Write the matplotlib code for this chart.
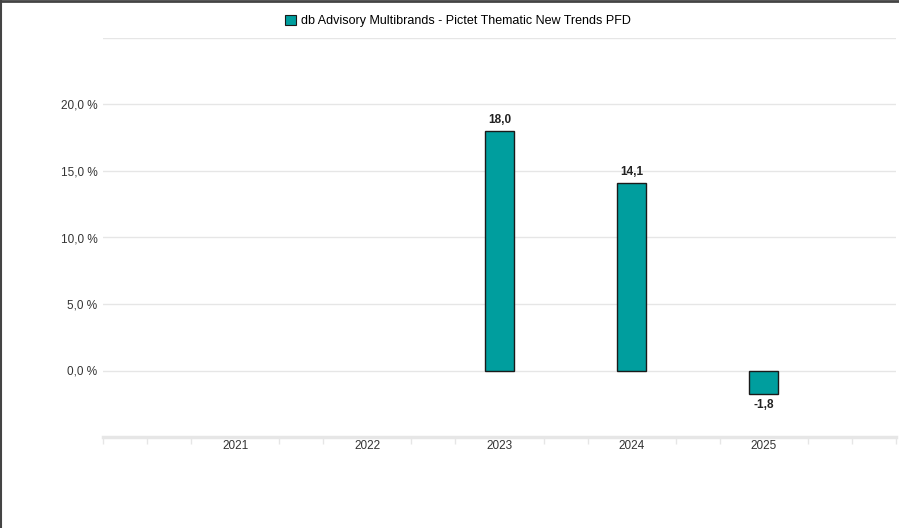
import matplotlib
matplotlib.use('Agg')
import matplotlib.pyplot as plt
from matplotlib.lines import Line2D
from matplotlib.patches import Patch

# -------------------------
# DATA
# -------------------------
years = [2021, 2022, 2023, 2024, 2025]
values = [None, None, 18.0, 14.1, -1.8]
series_name = "db Advisory Multibrands - Pictet Thematic New Trends PFD"
y_ticks = [0, 5, 10, 15, 20]

bar_color = "#009e9e"
grid_color = "#e6e6e6"

plt.rcParams['font.family'] = ['Liberation Sans', 'DejaVu Sans']

fig = plt.figure(figsize=(8.99, 5.28), dpi=100)
ax = fig.add_axes([103 / 899, 1 - 437 / 528, (896 - 103) / 899, (437 - 38) / 528])

xs = [y for y, v in zip(years, values) if v is not None]
vs = [v for v in values if v is not None]
ax.bar(xs, vs, width=0.22, color=bar_color, edgecolor="#1a1a1a", linewidth=1.0, zorder=3)

# value labels
for x, v in zip(xs, vs):
    txt = f"{v:.1f}".replace(".", ",")
    if v >= 0:
        ax.annotate(txt, (x, v), xytext=(0, 3.5), textcoords="offset points",
                    ha="center", va="bottom", fontsize=8.5, fontweight="bold", color="#222222")
    else:
        ax.annotate(txt, (x, v), xytext=(0, -3), textcoords="offset points",
                    ha="center", va="top", fontsize=8.5, fontweight="bold", color="#222222")

ax.set_xlim(2020, 2026)
ax.set_ylim(-5, 25)

# horizontal grid lines
for g in y_ticks + [25]:
    ax.axhline(g, color=grid_color, linewidth=1.0, zorder=1)

ax.set_yticks(y_ticks)
ax.set_yticklabels([f"{t:.1f}".replace(".", ",") + " %" for t in y_ticks])
ax.set_xticks(years)
ax.set_xticklabels([str(y) for y in years])
ax.tick_params(axis="both", length=0, labelsize=8.5, colors="#333333")
ax.tick_params(axis="y", pad=4)
ax.tick_params(axis="x", pad=2)

# minor ticks on x-axis (every third of a year except at labels)
minor = [2020 + k / 3 for k in range(19) if k % 3 != 0 or k in (0, 18)]
ax.set_xticks(minor, minor=True)
ax.tick_params(axis="x", which="minor", length=5, width=1, color=grid_color, direction="out")

for s in ["top", "right", "left"]:
    ax.spines[s].set_visible(False)
ax.spines["bottom"].set_color(grid_color)
ax.spines["bottom"].set_linewidth(2.5)

# legend
handle = Patch(facecolor=bar_color, edgecolor="#1a1a1a", linewidth=0.8)
fig.legend([handle], [series_name], loc="center", bbox_to_anchor=(458 / 899, 1 - 21 / 528),
           frameon=False, fontsize=9, handlelength=0.9, handleheight=0.9, handletextpad=0.4)

# outer frame lines (top and left)
fig.add_artist(Line2D([0, 1], [0.999, 0.999], transform=fig.transFigure, color="#444444", linewidth=2))
fig.add_artist(Line2D([0.001, 0.001], [0, 1], transform=fig.transFigure, color="#444444", linewidth=1.5))

fig.savefig("out.png", dpi=100)
